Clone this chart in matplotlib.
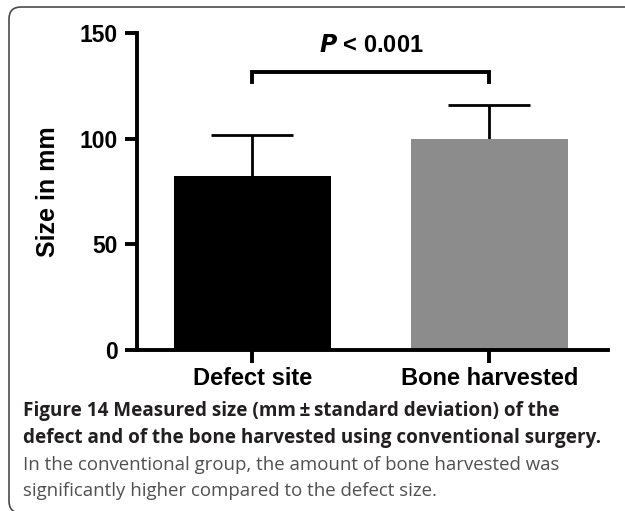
import matplotlib.pyplot as plt
from matplotlib.patches import FancyBboxPatch

# values
groups = ['Defect site', 'Bone harvested']
means = [82.5, 100.0]
sds = [19.0, 16.0]
bar_colors = ['#000000', '#8c8c8c']
p_label = r'$\boldsymbol{P}$ < 0.001'
yticks = [0, 50, 100, 150]

caption_bold = ['Figure 14 Measured size (mm\u2009\u00b1\u2009standard deviation) of the',
                'defect and of the bone harvested using conventional surgery.']
caption_plain = ['In the conventional group, the amount of bone harvested was',
                 'significantly higher compared to the defect size.']

plt.rcParams['font.family'] = ['Liberation Sans', 'DejaVu Sans']
plt.rcParams['mathtext.fontset'] = 'custom'
plt.rcParams['mathtext.bf'] = 'Liberation Sans:bold:italic'

fig = plt.figure(figsize=(6.25, 5.11), dpi=100)
ax = fig.add_axes([137 / 625, 1 - 350 / 511, (608 - 137) / 625, (350 - 33) / 511])

x = list(range(len(groups)))
ax.bar(x, means, width=0.66, color=bar_colors, zorder=2)
# one-sided error bars (upper SD only)
tops = [m + s for m, s in zip(means, sds)]
ax.vlines(x, means, tops, color='black', lw=2, zorder=1)
ax.hlines(tops, [i - 0.173 for i in x], [i + 0.173 for i in x],
          color='black', lw=2, zorder=1)

ax.set_xlim(-0.487, 1.5)
ax.set_ylim(0, 150)
ax.set_yticks(yticks)
ax.set_xticks(x)
ax.set_xticklabels(groups, fontsize=17, fontweight='bold')
ax.set_ylabel('Size in mm', fontsize=18, fontweight='bold', labelpad=14)
ax.tick_params(axis='y', labelsize=16.5, length=9, width=2.8, pad=5)
ax.tick_params(axis='x', length=9, width=2.8, pad=3)
for lab in ax.get_yticklabels():
    lab.set_fontweight('bold')
for s in ['top', 'right']:
    ax.spines[s].set_visible(False)
for s in ['left', 'bottom']:
    ax.spines[s].set_linewidth(2.8)
ax.spines['left'].set_capstyle('projecting')

# significance bracket
ax.plot([0, 0, 1, 1], [127, 131.5, 131.5, 127], color='black', lw=2.8,
        clip_on=False, solid_joinstyle='miter')
ax.text(0.5, 144, p_label, ha='center', va='center', fontsize=17,
        fontweight='bold')

# caption
cap_font = ['Open Sans', 'DejaVu Sans']
x0 = 23 / 625
y0 = 1 - 411 / 511
dy = 26.8 / 511
for i, line in enumerate(caption_bold):
    fig.text(x0, y0 - i * dy, line, fontsize=13.6, fontweight='bold',
             family=cap_font, color='#231f20', va='center')
for i, line in enumerate(caption_plain):
    fig.text(x0, y0 - (i + 2) * dy, line, fontsize=13.4,
             family=cap_font, color='#505050', va='center')

# rounded frame around the panel
frame = FancyBboxPatch((0.09, -0.02), 7.0, 5.04 + 0.02,
                       boxstyle='round,pad=0,rounding_size=0.12',
                       transform=fig.dpi_scale_trans, fill=False,
                       edgecolor='#4a4a4a', lw=1.2)
fig.patches.append(frame)

fig.savefig('out.png', dpi=100)
